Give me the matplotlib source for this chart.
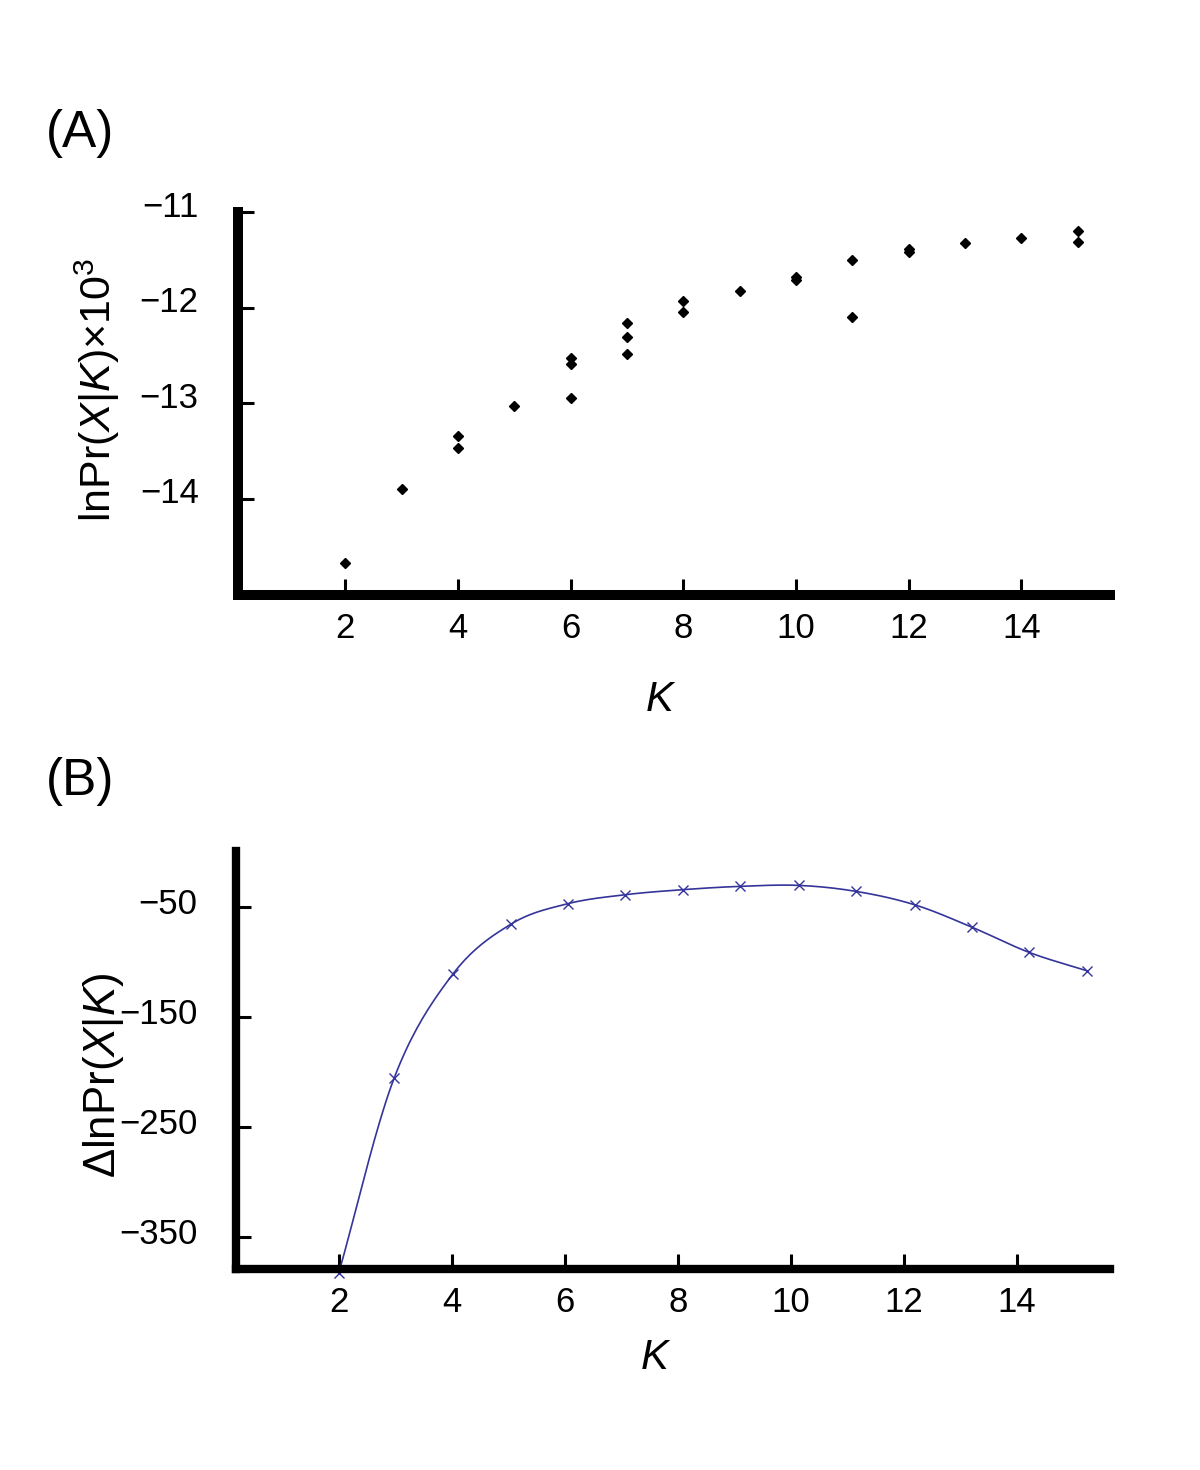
import matplotlib
matplotlib.use('Agg')
import matplotlib.pyplot as plt
import matplotlib.transforms as mtransforms
import numpy as np

plt.rcParams['font.family'] = ['Liberation Sans', 'DejaVu Sans']
plt.rcParams['mathtext.fontset'] = 'custom'
plt.rcParams['mathtext.rm'] = 'Liberation Sans'
plt.rcParams['mathtext.it'] = 'Liberation Sans:italic'

# Daten (A): lnPr(X|K) x 10^3, mehrere Laeufe pro K
k_a = [2, 3, 4, 4, 5, 6, 6, 6, 7, 7, 7, 8, 8, 9, 10, 10, 11, 11, 12, 12, 13, 14, 15, 15]
lnpr_a = [-14.67, -13.90, -13.34, -13.47, -13.03, -12.53, -12.59, -12.95,
          -12.16, -12.31, -12.49, -11.93, -12.05, -11.83, -11.68, -11.71,
          -11.50, -12.10, -11.39, -11.42, -11.32, -11.27, -11.20, -11.31]

# Daten (B): Delta lnPr(X|K)
k_b = [2.0, 2.98, 4.02, 5.05, 6.05, 7.07, 8.09, 9.10, 10.14, 11.16, 12.19, 13.20, 14.22, 15.24]
dlnpr_b = [-383, -205.7, -111, -65.5, -47, -38.8, -34.2, -31.2, -30.3, -35.8, -47.9, -68.2, -91.3, -108]

ticks_x = [2, 4, 6, 8, 10, 12, 14]
ticks_a = [-11, -12, -13, -14]
ticks_b = [-50, -150, -250, -350]


def catmull_rom(x, y, n=20):
    # glatte Kurve durch die Punkte (nur zum Zeichnen)
    p = np.column_stack([x, y]).astype(float)
    p = np.vstack([2 * p[0] - p[1], p, 2 * p[-1] - p[-2]])
    t = np.linspace(0, 1, n, endpoint=False)[:, None]
    out = []
    for i in range(1, len(p) - 2):
        p0, p1, p2, p3 = p[i - 1], p[i], p[i + 1], p[i + 2]
        out.append(0.5 * (2 * p1 + (-p0 + p2) * t + (2 * p0 - 5 * p1 + 4 * p2 - p3) * t**2
                          + (-p0 + 3 * p1 - 3 * p2 + p3) * t**3))
    out.append(p[-2][None, :])
    out = np.vstack(out)
    return out[:, 0], out[:, 1]


fig = plt.figure(figsize=(12, 14.7), dpi=100)
axA = fig.add_axes([0.198, 0.5952, 0.727, 0.2606])
axB = fig.add_axes([0.1967, 0.1367, 0.7283, 0.2844])

# Plot (A)
axA.plot(k_a, lnpr_a, 'kD', markersize=5, clip_on=False)
axA.set_xlim(0.087, 15.575)
axA.set_ylim(-15.01, -11)

# Plot (B)
xs, ys = catmull_rom(k_b, dlnpr_b)
col = '#34349a'
axB.plot(xs, ys, '-', color=col, lw=1.2, clip_on=False)
axB.plot(k_b, dlnpr_b, 'x', color=col, markersize=7, mew=1.0, clip_on=False)
axB.set_xlim(0.182, 15.65)
axB.set_ylim(-379.4, 1)

for ax, yt, lw, tl, dy in [(axA, ticks_a, 7.2, 11.5, 6), (axB, ticks_b, 6.0, 10.5, 4)]:
    for s in ['top', 'right']:
        ax.spines[s].set_visible(False)
    for s in ['left', 'bottom']:
        ax.spines[s].set_linewidth(lw)
    ax.set_xticks(ticks_x)
    ax.set_yticks(yt)
    ax.tick_params(direction='in', length=tl, width=2.2, labelsize=25)
    ax.tick_params(axis='y', pad=28)
    ax.tick_params(axis='x', pad=12)
    # y-Beschriftung etwas hoeher als die Ticks (wie im Original)
    off = mtransforms.ScaledTranslation(0, dy / 72, fig.dpi_scale_trans)
    for lab in ax.get_yticklabels():
        lab.set_transform(lab.get_transform() + off)

# Achsenbeschriftung
fig.text(97 / 1200, 1 - 390 / 1470, r'lnPr($X$|$K$)×10$^3$', rotation=90,
         ha='center', va='center', fontsize=31)
fig.text(103 / 1200, 1 - 1075 / 1470, r'ΔlnPr($X$|$K$)', rotation=90,
         ha='center', va='center', fontsize=31.5)
fig.text(660 / 1200, 1 - 700 / 1470, 'K', style='italic', ha='center', va='center', fontsize=30)
fig.text(655 / 1200, 1 - 1358 / 1470, 'K', style='italic', ha='center', va='center', fontsize=30)
fig.text(46 / 1200, 1 - 133 / 1470, '(A)', ha='left', va='center', fontsize=37)
fig.text(46 / 1200, 1 - 782 / 1470, '(B)', ha='left', va='center', fontsize=37)

fig.savefig('out.png', dpi=100)
